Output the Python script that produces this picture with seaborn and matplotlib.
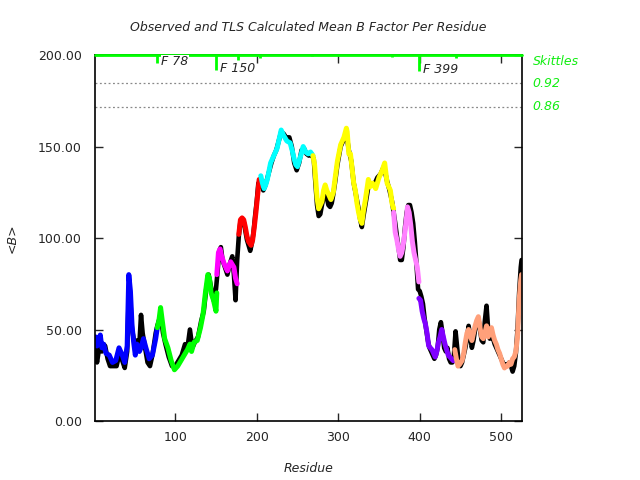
import matplotlib
matplotlib.use("Agg")
import matplotlib.pyplot as plt
import pandas as pd
import seaborn as sns

# ---------------- data ----------------
obs_res = [2,4,6,8,10,12,14,17,20,24,28,31,35,38,41,43,45,47,49,51,53,56,58,60,63,66,69,72,76,78,
           80,82,85,88,92,96,100,104,108,112,115,118,121,124,128,132,135,138,141,144,147,150,
           152,154,156,158,161,164,167,170,172,174,176,178,
           180,182,184,186,188,190,192,194,196,198,200,202,204,
           206,208,210,212,215,218,221,224,227,230,233,236,240,243,246,249,252,255,258,261,264,267,270,
           272,274,276,278,280,282,284,286,288,290,292,294,296,299,303,307,310,313,316,319,
           322,325,327,329,331,334,337,340,344,348,352,356,360,363,366,368,
           370,372,374,376,378,380,382,384,386,388,390,392,394,396,398,
           400,402,404,406,408,410,412,414,416,418,420,422,424,426,428,430,432,434,436,438,440,442,
           444,446,448,450,452,454,456,458,460,462,464,466,468,470,472,474,476,478,480,482,
           484,486,488,490,492,494,496,498,500,502,504,506,508,510,512,514,516,518,520,522,524,525]
obs_b = [40,32,38,45,38,42,41,34,30,30,30,36,33,29,38,70,65,50,45,40,44,42,58,48,40,32,30,36,48,52,
         55,58,48,42,35,30,30,33,36,42,40,50,40,43,46,55,60,72,80,73,66,72,
         82,93,95,88,84,80,86,90,80,66,88,101,
         109,110,109,104,99,96,93,97,103,112,120,130,128,
         131,126,128,131,136,141,145,148,153,158,157,155,155,150,141,137,141,148,149,146,145,146,143,
         130,118,112,113,118,122,127,122,118,117,119,124,130,140,150,154,157,148,142,130,
         123,116,110,106,112,120,128,130,129,133,135,139,131,126,120,114,
         108,101,95,88,88,95,106,114,118,118,114,108,98,86,72,
         71,68,64,56,50,44,40,38,36,34,36,40,50,54,48,40,38,40,34,32,32,36,
         49,40,31,30,32,36,40,45,52,46,40,44,50,54,56,50,44,43,55,63,
         50,45,48,45,42,40,38,36,34,32,30,31,31,32,30,27,30,37,50,70,84,88]

blue_res = [2,4,6,8,10,12,15,19,23,27,31,35,38,41,43,45,47,49,51,53,56,58,61,64,68,72,76,78]
blue_b = [46,41,44,47,40,42,37,36,32,33,40,36,32,41,80,71,52,43,36,42,38,40,45,40,34,36,45,51]
green_res = [78,80,82,84,87,91,95,99,103,107,111,115,118,120,123,127,131,134,137,140,142,144,147,150,151]
green_b = [51,55,62,55,45,40,33,28,30,33,36,39,42,38,43,44,51,58,70,80,78,70,66,60,70]
magenta_res = [151,153,155,157,160,164,168,172,174,176]
magenta_b = [80,92,94,90,86,82,87,84,78,75]
red_res = [178,180,182,184,186,188,190,193,195,197,199,201,203,205]
red_b = [102,110,111,110,106,101,98,96,99,106,114,123,132,130]
cyan_res = [205,207,209,211,213,217,219,222,225,228,230,233,237,241,244,246,248,250,252,254,257,260,263,266,269]
cyan_b = [134,130,127,129,132,141,143,146,149,155,159,156,153,152,147,143,140,139,142,145,150,147,146,147,145]
yellow_res = [269,271,272,274,276,278,280,282,284,286,288,291,294,296,299,303,307,310,311,313,
              315,317,319,321,323,325,327,329,331,333,335,337,339,342,346,350,354,357,360,364,366,368]
yellow_b = [145,140,134,122,116,118,120,126,129,126,124,121,125,132,142,151,155,160,158,146,
            146,138,130,126,119,114,110,108,115,120,126,132,128,130,127,133,137,141,130,126,119,116]
violet_res = [368,370,372,374,376,378,380,382,384,385,387,389,391,393,395,397,399]
violet_b = [114,103,99,94,90,92,97,104,112,117,114,107,98,92,88,84,76]
purple_res = [399,401,403,405,407,409,411,413,415,417,419,421,423,425,427,429,431,433,435,437,439,441,443]
purple_b = [67,66,60,56,53,48,41,40,39,37,35,38,43,46,50,46,42,39,36,35,34,33,33]
salmon_res = [443,445,447,449,452,454,456,458,460,462,464,466,468,470,472,474,476,478,480,482,
              484,486,488,490,492,494,496,498,500,502,504,506,508,510,512,514,516,518,520,522,524,525]
salmon_b = [39,34,30,31,33,37,43,48,50,47,44,48,52,55,57,51,46,45,48,52,
            46,48,51,47,44,42,39,37,34,31,29,30,30,32,31,34,35,38,46,66,77,80]

segments = {
    "blue": (blue_res, blue_b, "#0000ff"),
    "green": (green_res, green_b, "#00ff00"),
    "magenta": (magenta_res, magenta_b, "#ff00ff"),
    "red": (red_res, red_b, "#ff0000"),
    "cyan": (cyan_res, cyan_b, "#00ffff"),
    "yellow": (yellow_res, yellow_b, "#ffff00"),
    "violet": (violet_res, violet_b, "#ff80ff"),
    "purple": (purple_res, purple_b, "#8000ff"),
    "salmon": (salmon_res, salmon_b, "#ffa07a"),
}

flag_res = [78, 150, 177, 204, 268, 366, 399, 444]
flag_depth = [4.2, 8.0, 2.6, 1.6, 0.8, 1.2, 8.6, 1.6]
flag_labels = ["F 78", "F 150", "", "", "", "", "F 399", ""]

skittle_levels = [184.5, 171.7]
skittle_labels = ["0.92", "0.86"]

x_ticks = [100, 200, 300, 400, 500]
y_ticks = [0, 50, 100, 150, 200]

# ---------------- plot ----------------
sns.set_style("ticks")
plt.rcParams["font.family"] = ["DejaVu Sans"]

fig = plt.figure(figsize=(6.4, 4.8), dpi=100)
ax = fig.add_axes([0.1484, 0.1229, 0.6672, 0.7625])

obs_df = pd.DataFrame({"res": obs_res, "b": obs_b})
sns.lineplot(data=obs_df, x="res", y="b", color="black", lw=3.3, ax=ax,
             estimator=None, sort=False, legend=False)

rows = []
for name, (r, b, c) in segments.items():
    for xi, yi in zip(r, b):
        rows.append({"res": xi, "b": yi, "seg": name})
tls_df = pd.DataFrame(rows)
palette = {k: v[2] for k, v in segments.items()}
sns.lineplot(data=tls_df, x="res", y="b", hue="seg", palette=palette, lw=3.6, ax=ax,
             estimator=None, sort=False, legend=False, units="seg")

ax.set_xlim(1.5, 525.5)
ax.set_ylim(0, 200)
ax.set_xticks(x_ticks)
ax.set_yticks(y_ticks)
ax.set_yticklabels([f"{v:.2f}" for v in y_ticks])
ax.tick_params(direction="in", length=6, width=1, top=True, right=True, labelsize=9)
ax.tick_params(axis="y", pad=9.5)
ax.tick_params(axis="x", pad=7)
for s in ax.spines.values():
    s.set_linewidth(1.2)
    s.set_color("black")

# skittles dotted lines
for lvl, lab in zip(skittle_levels, skittle_labels):
    ax.axhline(lvl, color="#888888", lw=0.9, ls=(0, (1.5, 2)), zorder=1)
    ax.text(1.025, lvl, lab, transform=ax.get_yaxis_transform(), color="#11ee11",
            fontsize=9, style="italic", va="center", ha="left")
ax.text(1.025, 196.5, "Skittles", transform=ax.get_yaxis_transform(), color="#11ee11",
        fontsize=9, style="italic", va="center", ha="left")

# top green line and flag ticks
ax.axhline(200, color="#00ff00", lw=2, zorder=5, clip_on=False)
ax.vlines(flag_res, [200 - d for d in flag_depth], 200, color="#00ff00", lw=2, zorder=5)
for r, d, lab in zip(flag_res, flag_depth, flag_labels):
    if lab:
        ax.text(r + 5, 200 - d + 0.5, lab, fontsize=9, style="italic", va="center", ha="left",
                zorder=6, bbox=dict(facecolor="white", edgecolor="none", pad=0.3))

ax.set_xlabel("Residue", fontsize=9, style="italic", labelpad=13)
ax.set_ylabel("<B>", fontsize=9, style="italic", labelpad=14)
ax.set_title("Observed and TLS Calculated Mean B Factor Per Residue", fontsize=9,
             style="italic", pad=17)

fig.savefig("out.png", dpi=100)
